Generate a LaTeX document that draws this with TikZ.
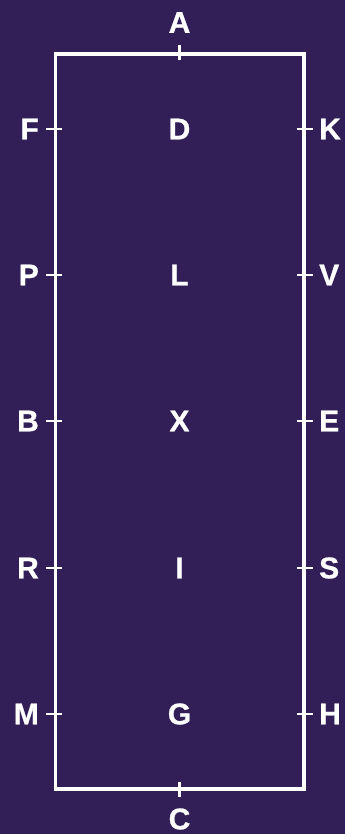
\documentclass[tikz,border=0pt]{standalone}
\usepackage{fontspec}
\setmainfont{Liberation Sans}[BoldFeatures={FakeBold=0.8}]
\definecolor{bg}{RGB}{51,31,87}
\begin{document}
\begin{tikzpicture}[x=1pt,y=-1pt,
  lbl/.style={text=white,font=\fontsize{30}{30}\selectfont\bfseries,inner sep=0pt},
  arena/.style={draw=white,line width=3.5pt},
  tick/.style={draw=white,line width=2.5pt}]
\fill[bg] (0,0) rectangle (345,834);
\useasboundingbox (0,0) rectangle (345,834);
\coordinate (tl) at (55.5,54);
\coordinate (br) at (304,789);
\draw[arena] (tl) rectangle (br);
% top/bottom
\node[lbl] (A) at (179.5,22.5) {A};
\node[lbl] (C) at (179.5,819) {C};
\coordinate (At1) at (179.5,45); \coordinate (At2) at (179.5,60);
\coordinate (Ct1) at (179.5,782); \coordinate (Ct2) at (179.5,797);
\draw[tick] (At1) -- (At2);
\draw[tick] (Ct1) -- (Ct2);
\foreach \l/\c/\r/\y in {F/D/K/129,P/L/V/275,B/X/E/421,R/I/S/568,M/G/H/714}{
  \node[lbl,anchor=east] (\l) at (39,\y) {\l};
  \node[lbl] (\c) at (179.5,\y) {\c};
  \node[lbl,anchor=west] (\r) at (319,\y) {\r};
  \coordinate (\l t1) at (46,\y); \coordinate (\l t2) at (62,\y);
  \coordinate (\r t1) at (297,\y); \coordinate (\r t2) at (313,\y);
  \draw[tick] (\l t1) -- (\l t2);
  \draw[tick] (\r t1) -- (\r t2);
}
\end{tikzpicture}
\end{document}
